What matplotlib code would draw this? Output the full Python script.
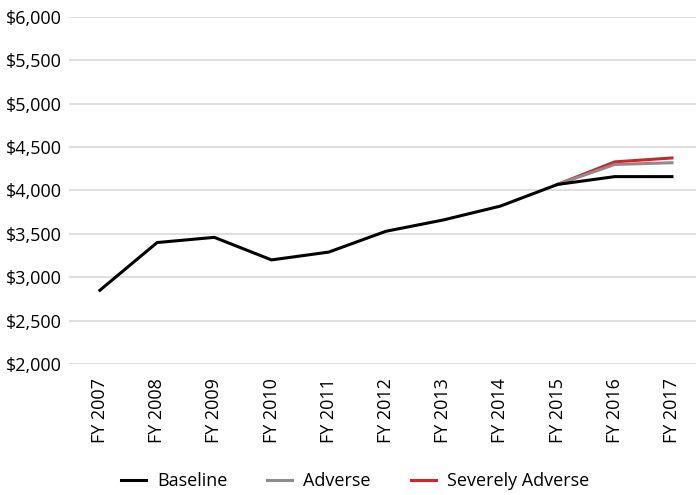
import numpy as np
import matplotlib.pyplot as plt
from matplotlib.ticker import FuncFormatter

plt.rcParams['font.family'] = ['Open Sans', 'DejaVu Sans']

# Fiscal years and series values
years = ['FY 2007', 'FY 2008', 'FY 2009', 'FY 2010', 'FY 2011', 'FY 2012',
         'FY 2013', 'FY 2014', 'FY 2015', 'FY 2016', 'FY 2017']
baseline = [2850, 3400, 3460, 3200, 3290, 3530, 3660, 3820, 4070, 4160, 4160]
adverse = [4070, 4300, 4320]            # FY 2015 - FY 2017
severe = [4070, 4330, 4375]             # FY 2015 - FY 2017

x = np.arange(len(years))
x_scen = x[-3:]

fig = plt.figure(figsize=(6.96, 4.95), dpi=100)
ax = fig.add_axes([69 / 696, 1 - 364 / 495, 627 / 696, 347 / 495])

ax.plot(x_scen, severe, color='#d2232a', lw=2.2, label='Severely Adverse', zorder=3)
ax.plot(x_scen, adverse, color='#8c8c8c', lw=2.2, label='Adverse', zorder=4)
ax.plot(x, baseline, color='black', lw=2.2, label='Baseline', zorder=5)

ax.set_ylim(2000, 6000)
ax.set_yticks(np.arange(2000, 6001, 500))
ax.yaxis.set_major_formatter(FuncFormatter(lambda v, p: f'${v:,.0f}'))
ax.set_xlim(-0.54, 10.42)
ax.set_xticks(x)
ax.set_xticklabels(years, rotation=90)
ax.grid(axis='y', color='#d9d9d9', lw=1.2)
ax.set_axisbelow(True)
for s in ax.spines.values():
    s.set_visible(False)
ax.tick_params(length=0, labelsize=13)
ax.tick_params(axis='y', pad=5)
ax.tick_params(axis='x', pad=10)

h, l = ax.get_legend_handles_labels()
order = [2, 1, 0]
fig.legend([h[i] for i in order], [l[i] for i in order], loc='center',
           bbox_to_anchor=(0.51, 1 - 481 / 495), ncol=3, frameon=False,
           fontsize=13, handlelength=1.4, columnspacing=2.2, handletextpad=0.6)

fig.savefig('out.png', dpi=100)
